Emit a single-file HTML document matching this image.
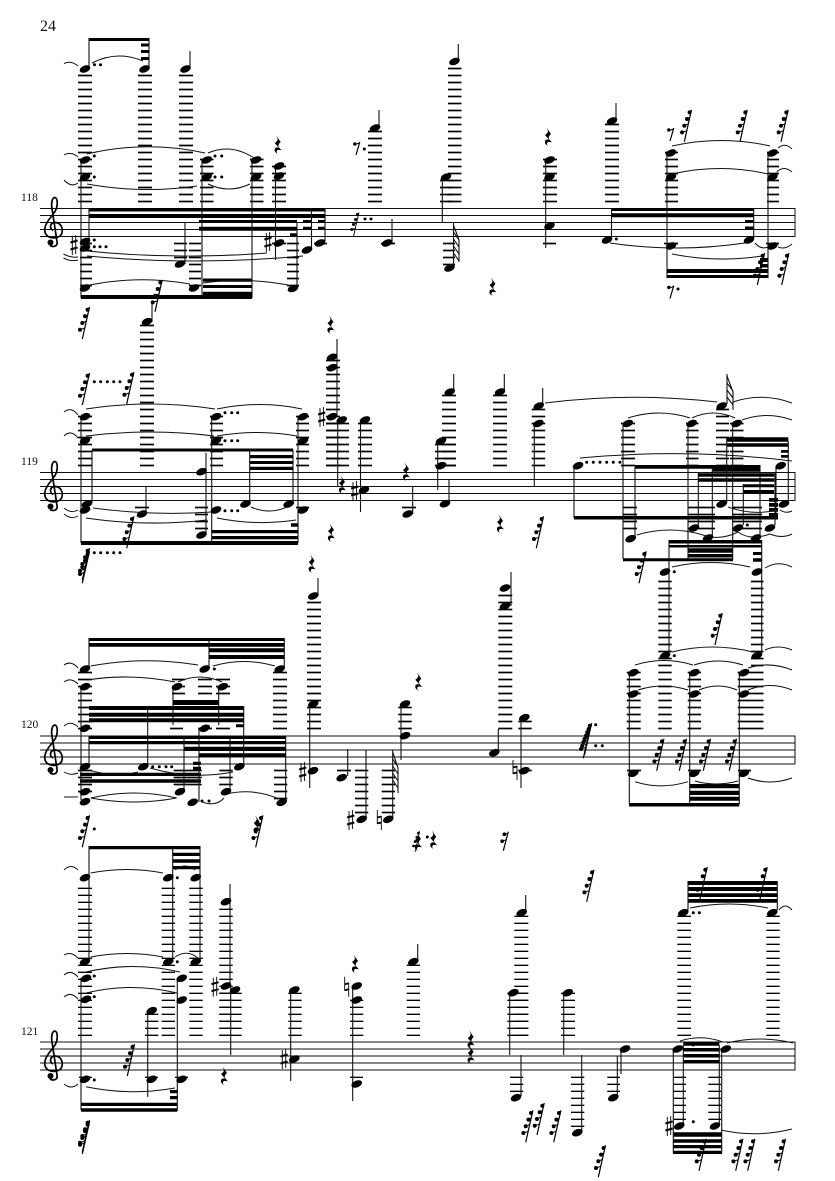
<!DOCTYPE html>
<html><head><meta charset="utf-8"><style>
html,body{margin:0;padding:0;background:#fff}
svg{display:block}
text{font-family:"Liberation Serif",serif;fill:#111}
.st{stroke:#111;stroke-width:1.1;fill:none}
.sl{stroke:#111;stroke-width:1;fill:none}
.ln{stroke:#111;stroke-width:1;fill:none}
.dt{stroke:#000;stroke-width:3;stroke-linecap:round;fill:none}
</style></head><body>
<svg xmlns="http://www.w3.org/2000/svg" width="835" height="1181" viewBox="0 0 835 1181">
<defs>
<pattern id="a" patternUnits="userSpaceOnUse" width="10" height="7"><rect y="4.65" width="10" height="1.7" fill="#000"/></pattern>
<pattern id="b" patternUnits="userSpaceOnUse" width="10" height="7"><rect y="2.65" width="10" height="1.7" fill="#000"/></pattern>
<pattern id="c" patternUnits="userSpaceOnUse" y="-1" width="10" height="7"><rect y=".65" width="10" height="1.7" fill="#000"/></pattern>
<pattern id="d" patternUnits="userSpaceOnUse" width="10" height="7"><rect y="5.65" width="10" height="1.7" fill="#000"/></pattern>
<g id="n"><ellipse rx="5.6" ry="3.4" transform="rotate(-22)" fill="#000"/></g>
<g id="q"><path d="M-1.5-9.5L3-3Q0-.5 1 2L4 5.5Q0 4-1 6Q-1.5 8 1 9.5Q-4 7-3 4Q-2 2 1 2.5L-3-2Q0-4 0-6Z" fill="#000"/></g>
<g id="r"><path d="M0 0L7.2-32" stroke="#000" stroke-width="1.2" fill="none"/><path d="M-2.3-9.3L2.6-11M0-16L4.2-18M2.7-22.7L5.7-24.500M5.3-29.3L7.2-31" stroke="#000" stroke-width="1" fill="none"/><circle cx="-2.3" cy="-9.3" r="2"/><circle cy="-16" r="2"/><circle cx="2.7" cy="-22.7" r="2"/><circle cx="5.3" cy="-29.3" r="2"/></g>
<g id="e"><path d="M0 0L3.800-13" stroke="#000" stroke-width="1.2" fill="none"/><path d="M-1-10.500L3.500-12" stroke="#000" stroke-width="1" fill="none"/><circle cx="-1.2" cy="-11" r="1.700"/></g>
<g id="t"><path d="M0 0L5-19" stroke="#000" stroke-width="1.2" fill="none"/><path d="M-1-9.500L3-11M1-15.500L4.500-17.500" stroke="#000" stroke-width="1" fill="none"/><circle cx="-1.200" cy="-9.500" r="1.800"/><circle cx="1" cy="-16.500" r="1.800"/></g>
<g id="s"><path d="M-1.7-9V10M1.7-10V9" stroke="#000" stroke-width=".9" fill="none"/><path d="M-3.6-2.5L3.6-4.5M-3.6 4.5L3.6 2.5" stroke="#000" stroke-width="2" fill="none"/></g>
<g id="h"><path d="M-2-10V4M2-4V10" stroke="#000" stroke-width=".9" fill="none"/><path d="M-2-2.5L2-3.5M-2 3.5L2 2.5" stroke="#000" stroke-width="1.8" fill="none"/></g>
<g id="g"><path d="M-1 1C-5-1-4-7 1-7C7-7 9-1 8 3C7 8 1 9-3 8C-8 7-10 3-9-2C-8-8-2-13 1-18C4-23 4-31 1-32C-2-32-3-26-2-21L3 12C4 17-1 18-4 16" fill="none" stroke="#000" stroke-width="1.7"/><circle cx="-3.5" cy="13" r="3"/></g>
</defs>
<text x="40" y="31" font-size="16">24</text>
<text x="21" y="201" font-size="11.5">118</text>
<text x="21" y="465" font-size="11.5">119</text>
<text x="21" y="728" font-size="11.5">120</text>
<text x="21" y="1035" font-size="11.5">121</text>

<path class="ln" d="M40 208.5H795M40 215.5H795M40 222.5H795M40 229.5H795M40 236.5H795M795 208V237"/>
<path class="ln" d="M40 472.5H795M40 479.5H795M40 486.5H795M40 493.5H795M40 500.5H795M795 472V501"/>
<path class="ln" d="M40 736H795M40 743H795M40 750H795M40 757H795M40 764H795M795 735.5V764.5"/>
<path class="ln" d="M40 1042H795M40 1049H795M40 1056H795M40 1063H795M40 1070H795M795 1041.5V1070.5"/>
<use href="#g" x="54" y="229.5"/><use href="#g" x="54" y="493.5"/><use href="#g" x="54" y="757"/><use href="#g" x="54" y="1063"/>

<g fill="url(#a)">
<rect x="78" y="74.5" width="14" height="128"/><rect x="138" y="74.5" width="14" height="128"/><rect x="179" y="74.5" width="14" height="128"/>
<rect x="200" y="158.5" width="13.5" height="44"/><rect x="250" y="158.5" width="13.5" height="44"/><rect x="272" y="165.5" width="14" height="37"/>
<rect x="368" y="130.5" width="14" height="72"/><rect x="448" y="67.5" width="13.5" height="135"/><rect x="440" y="179.5" width="13" height="23"/>
<rect x="543" y="158.5" width="14" height="44"/><rect x="605" y="123.5" width="14" height="79"/><rect x="665" y="151.5" width="13" height="51"/><rect x="767" y="151.5" width="12" height="51"/>
<rect x="80" y="242.5" width="12" height="44"/><rect x="189" y="242.5" width="12" height="44"/><rect x="287" y="242.5" width="12" height="44"/>
<rect x="174" y="242.5" width="13" height="16"/><rect x="443" y="242.5" width="12" height="23"/>
<rect x="272" y="242.5" width="14" height="2"/><rect x="314" y="242.5" width="13" height="2"/><rect x="381" y="242.5" width="14" height="2"/>
<rect x="543" y="242.5" width="13" height="2"/><rect x="664" y="242.5" width="14" height="2"/><rect x="766" y="242.5" width="13" height="2"/>
</g>
<g fill="url(#b)">
<rect x="140" y="324.5" width="14" height="142"/><rect x="78" y="415.5" width="14" height="51"/><rect x="210" y="415.5" width="13" height="51"/><rect x="296" y="415.5" width="13" height="51"/>
<rect x="326" y="359.5" width="14" height="107"/><rect x="326" y="422.5" width="23" height="44"/><rect x="358" y="422.5" width="14" height="44"/>
<rect x="442" y="394.5" width="14" height="72"/><rect x="435" y="443.5" width="21" height="23"/><rect x="493" y="394.5" width="14" height="72"/>
<rect x="531.7" y="408.5" width="13.5" height="58"/><rect x="621" y="422.5" width="14" height="44"/><rect x="686" y="422.5" width="12.5" height="44"/><rect x="716" y="408.5" width="13" height="58"/><rect x="730" y="422.5" width="13.5" height="44"/>
<rect x="195" y="506.5" width="13" height="23"/><rect x="623" y="506.5" width="14" height="23"/><rect x="688" y="506.5" width="27" height="23"/><rect x="732" y="506.5" width="30" height="23"/>
<rect x="135" y="506.5" width="14" height="2"/><rect x="296" y="506.5" width="13" height="2"/><rect x="402" y="506.5" width="14" height="2"/>
</g>
<g fill="url(#c)">
<rect x="307" y="601.5" width="14" height="128"/><rect x="78" y="671.5" width="14" height="58"/><rect x="273" y="671.5" width="14" height="58"/>
<rect x="172" y="678.5" width="13" height="16"/><rect x="198" y="678.5" width="14" height="16"/><rect x="216" y="678.5" width="14" height="16"/>
<rect x="170" y="727.5" width="13" height="2"/><rect x="198" y="727.5" width="14" height="2"/><rect x="216" y="727.5" width="14" height="2"/>
<rect x="398.3" y="706.5" width="13.4" height="23"/><rect x="498.3" y="594.5" width="14" height="135"/><rect x="518.3" y="720.5" width="13.4" height="9"/>
<rect x="626.7" y="671.5" width="14" height="58"/><rect x="687.7" y="671.5" width="13.3" height="58"/><rect x="737.7" y="671.5" width="13.3" height="58"/>
<rect x="658.3" y="580.5" width="13.4" height="149"/><rect x="751" y="580.5" width="12.5" height="149"/>
<rect x="78" y="769.5" width="14" height="23"/><rect x="173.7" y="769.5" width="28" height="16"/><rect x="219.3" y="769.5" width="13.4" height="16"/><rect x="274" y="769.5" width="13.3" height="30"/>
<rect x="355" y="769.5" width="13.3" height="44"/><rect x="381.7" y="769.5" width="13.3" height="44"/>
<rect x="337" y="769.5" width="14" height="2"/><rect x="518.3" y="769.5" width="13.4" height="2"/><rect x="627" y="769.5" width="14" height="2"/><rect x="688" y="769.5" width="13" height="2"/><rect x="738" y="769.5" width="13" height="2"/>
</g>
<g fill="url(#d)">
<rect x="78" y="887.5" width="14" height="149"/><rect x="161.7" y="887.5" width="13.3" height="149"/><rect x="189.3" y="887.5" width="13.4" height="149"/>
<rect x="145" y="1013.5" width="13.3" height="23"/><rect x="219.3" y="908.5" width="13.4" height="128"/><rect x="219.3" y="992.5" width="22.4" height="44"/>
<rect x="288.3" y="992.5" width="13.4" height="44"/><rect x="350" y="999.5" width="13.3" height="37"/><rect x="406.7" y="964.5" width="13.3" height="72"/>
<rect x="514.3" y="915.5" width="14" height="121"/><rect x="507.3" y="992.5" width="21" height="44"/><rect x="561" y="992.5" width="14" height="44"/>
<rect x="677.3" y="915.5" width="13.7" height="121"/><rect x="766.3" y="915.5" width="13.4" height="121"/>
<rect x="510" y="1076.5" width="13.3" height="16"/><rect x="607.3" y="1076.5" width="12.7" height="16"/><rect x="571" y="1076.5" width="13.3" height="51"/>
<rect x="674" y="1076.5" width="12" height="44"/><rect x="708.3" y="1076.5" width="12.7" height="44"/>
<rect x="79" y="1076.5" width="13" height="2"/><rect x="145" y="1076.5" width="13" height="2"/><rect x="175" y="1076.5" width="13" height="2"/><rect x="350" y="1076.5" width="13" height="2"/>
</g>

<path fill="#000" d="
M89 38h60v3h-60zM141 43.5h8v3h-8zM141 50h8v3h-8zM141 57h8v3h-8z
M89 208h236v3.5h-236zM89 214h236v4h-236zM199 220h98v2.7h-98zM199 226.7h98v4h-98zM290 233.3h7v2.7h-7zM303 220h8.5v2.7h-8.5zM303 226.7h8.5v2.7h-8.5zM318 220h7v2.7h-7zM318 226.7h7v2.7h-7z
M81 295h171v4h-171zM203 278.5h49v3.2h-49zM203 285h49v3h-49zM203 291.7h49v3.3h-49z
M611 208h142.700v3h-142.700zM611 213.300h142.700v4h-142.700zM745 220h8.700v3h-8.700zM745 226.500h8.700v3h-8.700z
M667 269h101v4h-101zM667 275h101v3h-101zM760 258h8v4h-8zM760 264h8v3.500h-8z
M92 448.500h201v3h-201zM249.700 455h43.300v3.300h-43.300zM249.700 461h43.300v3h-43.300zM249.700 466.700h43.300v3.300h-43.300z
M81 541h217v4h-217zM212 530h86v3.300h-86zM212 536h86v3.300h-86zM291 523.300h7v3.400h-7z
M635 465h125v3.700h-125zM712.700 468.300h47.300v3.400h-47.300zM698.300 473.300h76v3.400h-76zM698.300 478.300h76v3.400h-76zM743 484.300h31v3h-31zM743 490h31v3.300h-31z
M727 437.300h61.300v4.400h-61.300zM727 443.300h61.300v3.400h-61.300zM781 450h7.300v2.700h-7.300zM781 455h7.300v2.700h-7.300z
M769 498h9v3.700h-9zM769 503h9v3.700h-9zM769 508h9v3.700h-9zM769 513h9v3.700h-9z
M574 516h204v3.500h-204zM623 558.300h110v3h-110zM688 548.300h45v4.400h-45zM688 554h45v3.500h-45zM669 540h92.700v3.500h-92.700zM669 545h92.700v2.500h-92.700zM753 552h8.700v3h-8.700zM753 558.300h8.700v3.400h-8.700z
M89 638h195.300v3h-195.300zM89 643h195.300v3.700h-195.300zM209 648.300h75.300v4h-75.300zM209 655h75.300v4h-75.300z
M172.700 700h46v5h-46zM89 706h154.700v4h-154.700zM89 712.700h154.700v4h-154.700zM89 718.300h154.700v4h-154.700zM236 724.300h7.700v3h-7.700z
M89 735.700h196.700v3.300h-196.700zM89 741h196.700v3.300h-196.700zM184 746.700h101.700v4.300h-101.700zM199 753.300h86.700v3.400h-86.700z
M80 772.700h121v3.300h-121zM80 779.300h121v3.400h-121zM193 761.700h8v3.300h-8zM193 766.700h8v3.300h-8z
M629 803h110.300v3.500h-110.300zM689.700 784h49.600v4.300h-49.600zM689.700 790.700h49.600v4.300h-49.600zM689.700 796.700h49.600v4h-49.600z
M89 846h111v3.300h-111zM172.700 852.700h27.300v3.300h-27.300zM172.700 859.300h27.300v3.400h-27.300zM172.700 866h27.300v3.300h-27.300z
M81 1102.700h96.300v3.300h-96.300zM81 1108.300h96.300v3.400h-96.300zM170 1090h8v3.300h-8zM170 1096h8v3.300h-8z
M688 881h89.300v4h-89.300zM688 887h89.300v4h-89.300zM688 893.300h89.300v3.700h-89.300zM688 899h89.300v3.700h-89.300z
M683.300 1041.700h36v4h-36zM683.300 1048h36v3.500h-36zM683.300 1054h36v3.500h-36zM683.300 1060h36v3.300h-36z
M673 1132.300h49v4.400h-49zM673 1139.300h49v3.400h-49zM673 1145h49v3.300h-49zM673 1150.700h49v3.300h-49z"/>

<path class="st" d="M89 38V69M149 38V69M190 51V68M81 160V298M202 160V298M252 160V298M275.500 166V260M89 208V248M185 222V264M297 222V288M311.500 208V248M325 208V241M379 110V127M392 219V243
M458.300 44V61M442.300 177V222M453.500 223V266M545.700 160V248M616 103V120M611.500 208V238M753.700 208V238M667 152V278M768 152V278
M152 304V322M81 417V543M92 450V503M249.700 450V503M293 450V503M211.700 417V543M298 417V543M146 486.500V514M206 453V535
M337 339V417M337.700 420V486M360.500 420V512M412.700 486.500V514M453.700 374V392M437.700 441V490M449 480V503M504.300 374V392M542.700 388V406M534.300 423V486
M574 466V518M623 423V559M635 467V537M669 540V655M761.700 540V655M688 423V559M727 374V404M732.700 423V560M726.700 437V503M788.300 441V503M776 466V518M698.300 473V527M712.300 468V536M760 465V535M743.300 484V525M775 473V525
M318 578V596M309.700 704V788M81 687V800M89 638V667M209 638V668M284.300 638V668M173 687V725M218.700 687V725M89 736V765M147.700 706V765M243.700 706V766M184 736V790M199 728V802M230 737V790M285.700 736V800
M347.700 749V776M366 750V818M392.700 750V818M401 704V760M498.300 729V750M511 572V606M521 718V788M629.300 673V804M689.700 673V804M739.300 673V804
M89 846V958M172.700 846V958M200 846V958M81 978V1110M177.300 978V1111M147.700 1011V1097M230 884V985M230.700 986V1055M290.700 990V1081M352.700 986V1101
M417.700 944V960M525.700 895V912M509.700 993V1055M521 1055V1096M563.700 993V1055M581.700 1055V1131M621 1049V1074M617.300 1056V1096M688 881V910M777.300 881V910M673.300 1049V1153M683.300 1045V1125M719.300 1045V1125M721.700 1049V1153"/>

<path class="st" d="M453.500 225L459 240L459 262M453.500 232L459 240M453.500 239L459 247M453.500 246L459 254M453.500 253L459 261"/>
<path class="st" d="M727 376L733 392L733 410M727 383L733 391M727 390L733 398M727 397L733 405"/>
<path class="st" d="M392.700 752L398 768L398 793M392.700 759L398 767M392.700 766L398 774M392.700 773L398 781M392.700 780L398 788"/>

<g>
<use href="#n" x="85" y="69"/><use href="#n" x="144.500" y="69"/><use href="#n" x="185.500" y="69"/>
<use href="#n" x="85" y="160"/><use href="#n" x="85" y="177"/><use href="#n" x="206.700" y="160"/><use href="#n" x="206.700" y="177"/>
<use href="#n" x="256" y="160"/><use href="#n" x="256" y="177"/><use href="#n" x="279" y="166"/><use href="#n" x="279" y="176"/>
<use href="#n" x="85" y="241.500"/><use href="#n" x="85" y="248"/><use href="#n" x="85" y="288"/><use href="#n" x="180" y="264"/><use href="#n" x="194" y="288"/><use href="#n" x="293" y="288.500"/>
<use href="#n" x="279" y="243"/><use href="#n" x="307" y="250"/><use href="#n" x="320" y="243"/><use href="#n" x="375" y="128"/><use href="#n" x="387" y="243"/>
<use href="#n" x="454.500" y="61.500"/><use href="#n" x="446" y="177"/><use href="#n" x="449.500" y="268"/>
<use href="#n" x="549.500" y="160"/><use href="#n" x="549.500" y="177"/><use href="#n" x="549.500" y="226"/><use href="#n" x="612" y="121"/><use href="#n" x="607" y="240"/><use href="#n" x="749" y="240"/>
<use href="#n" x="671" y="153"/><use href="#n" x="671" y="177"/><use href="#n" x="671" y="246"/><use href="#n" x="772.500" y="153"/><use href="#n" x="772.500" y="177"/><use href="#n" x="772.500" y="246"/>

<use href="#n" x="147" y="321.700"/><use href="#n" x="85" y="416.700"/><use href="#n" x="85" y="440.700"/><use href="#n" x="87" y="504"/><use href="#n" x="85" y="510"/>
<use href="#n" x="216" y="416.700"/><use href="#n" x="216" y="440.700"/><use href="#n" x="216" y="510"/><use href="#n" x="303" y="416.700"/><use href="#n" x="303" y="440.700"/><use href="#n" x="303" y="510"/>
<use href="#n" x="142" y="514"/><use href="#n" x="201.500" y="471.700"/><use href="#n" x="201.500" y="535"/><use href="#n" x="245.500" y="504"/><use href="#n" x="288.700" y="504"/>
<use href="#n" x="332" y="357.300"/><use href="#n" x="332" y="367.700"/><use href="#n" x="332" y="416.700"/><use href="#n" x="341.700" y="420"/><use href="#n" x="365" y="420"/><use href="#n" x="364" y="490"/><use href="#n" x="407.700" y="514"/>
<use href="#n" x="449.700" y="392"/><use href="#n" x="441" y="441"/><use href="#n" x="441" y="465.700"/><use href="#n" x="445" y="503.700"/><use href="#n" x="500" y="392"/><use href="#n" x="538.700" y="406"/><use href="#n" x="538.300" y="423.500"/>
<use href="#n" x="578" y="465.700"/><use href="#n" x="627.700" y="423.500"/><use href="#n" x="630.700" y="538.700"/><use href="#n" x="691.700" y="423.500"/><use href="#n" x="721.700" y="406"/><use href="#n" x="736.700" y="423.500"/>
<use href="#n" x="721.700" y="504"/><use href="#n" x="780.700" y="465.700"/><use href="#n" x="784" y="504"/>
<use href="#n" x="694" y="528"/><use href="#n" x="708" y="538"/><use href="#n" x="738" y="528"/><use href="#n" x="756" y="538"/><use href="#n" x="770" y="528"/>

<use href="#n" x="665" y="572"/><use href="#n" x="757" y="572"/><use href="#n" x="313.300" y="596"/><use href="#n" x="505" y="588"/><use href="#n" x="505" y="606"/>
<use href="#n" x="85" y="669"/><use href="#n" x="204.700" y="669"/><use href="#n" x="279.700" y="669"/><use href="#n" x="85" y="686.700"/><use href="#n" x="177" y="686.700"/><use href="#n" x="222.700" y="686.700"/>
<use href="#n" x="85" y="728.300"/><use href="#n" x="204.700" y="728.300"/><use href="#n" x="143.300" y="766.700"/><use href="#n" x="239.300" y="766.700"/><use href="#n" x="85" y="766.700"/><use href="#n" x="85" y="791.700"/><use href="#n" x="85" y="801.700"/>
<use href="#n" x="180" y="791.700"/><use href="#n" x="226" y="791.700"/><use href="#n" x="192.700" y="802.300"/><use href="#n" x="281.700" y="802.300"/>
<use href="#n" x="313.300" y="704"/><use href="#n" x="313" y="770.700"/><use href="#n" x="341.700" y="777.700"/><use href="#n" x="361.700" y="819.300"/><use href="#n" x="388.300" y="819.300"/><use href="#n" x="405" y="704"/><use href="#n" x="405" y="735.700"/>
<use href="#n" x="494.300" y="752.700"/><use href="#n" x="524.300" y="717.700"/><use href="#n" x="524.300" y="770.700"/>
<use href="#n" x="633.300" y="672.700"/><use href="#n" x="633.300" y="694"/><use href="#n" x="633.300" y="773.300"/><use href="#n" x="694.300" y="672.700"/><use href="#n" x="694.300" y="694"/><use href="#n" x="694.300" y="773.300"/><use href="#n" x="744" y="672.700"/><use href="#n" x="744" y="694"/><use href="#n" x="744" y="773.300"/>
<use href="#n" x="665" y="655.700"/><use href="#n" x="756.700" y="655.700"/>

<use href="#n" x="85" y="877.700"/><use href="#n" x="168.300" y="877.700"/><use href="#n" x="195.700" y="877.700"/><use href="#n" x="85" y="961.700"/><use href="#n" x="168.300" y="961.700"/><use href="#n" x="195.700" y="961.700"/>
<use href="#n" x="86" y="978.300"/><use href="#n" x="86" y="999.300"/><use href="#n" x="181.700" y="978.300"/><use href="#n" x="181.700" y="1000"/><use href="#n" x="85" y="1079.300"/><use href="#n" x="151.700" y="1079.300"/><use href="#n" x="181.700" y="1079.300"/><use href="#n" x="151.700" y="1010.700"/>
<use href="#n" x="226" y="901.700"/><use href="#n" x="226" y="986"/><use href="#n" x="235" y="990"/><use href="#n" x="294.300" y="990"/><use href="#n" x="294.300" y="1059"/>
<use href="#n" x="356.700" y="986"/><use href="#n" x="356.700" y="1000"/><use href="#n" x="356.700" y="1084"/><use href="#n" x="413.300" y="961.700"/>
<use href="#n" x="521.700" y="912.700"/><use href="#n" x="513.300" y="992.700"/><use href="#n" x="516" y="1097.700"/><use href="#n" x="567.700" y="992.700"/><use href="#n" x="577.300" y="1132.700"/><use href="#n" x="625" y="1049"/><use href="#n" x="613.300" y="1097.700"/>
<use href="#n" x="683.300" y="912.700"/><use href="#n" x="772.300" y="912.700"/><use href="#n" x="677.700" y="1049"/><use href="#n" x="725.700" y="1049"/><use href="#n" x="679.300" y="1126"/><use href="#n" x="715" y="1126"/>
</g>

<use href="#s" x="74" y="245"/><use href="#s" x="268" y="242"/><use href="#s" x="321.700" y="417"/><use href="#s" x="354.700" y="491"/><use href="#s" x="302.700" y="772"/><use href="#s" x="350.700" y="820"/><use href="#h" x="379.300" y="820"/><use href="#h" x="515" y="770"/>
<use href="#s" x="215" y="986.700"/><use href="#s" x="284" y="1059"/><use href="#h" x="346.700" y="986.700"/><use href="#s" x="669" y="1126"/>

<path class="dt" d="M94.500 64.700h.01M100.500 64.700h.01M94.300 156h.01M94.300 177h.01M215 156h.01M221.700 156h.01M215 177h.01M221.700 177h.01M94.300 240h.01M94.300 246.700h.01M100 246.700h.01M106 246.700h.01M364.300 149h.01M365 219h.01M371 219h.01M616.300 239h.01M678 289h.01
M94.300 381.700h.01M100.700 381.700h.01M107.300 381.700h.01M113.700 381.700h.01M120 381.700h.01M94.300 552.700h.01M100.700 552.700h.01M107.300 552.700h.01M113.700 552.700h.01M120 552.700h.01
M225 412.700h.01M231.700 412.700h.01M237.700 412.700h.01M225 440.700h.01M231.700 440.700h.01M237.700 440.700h.01M225 510.700h.01M231.700 510.700h.01M237.700 510.700h.01
M586.700 462.300h.01M593.300 462.300h.01M600 462.300h.01M606.700 462.300h.01M613.300 462.300h.01M620 462.300h.01M747.300 525h.01M674.300 571.700h.01
M214.300 669h.01M152.700 766.700h.01M159.300 766.700h.01M166 766.700h.01M171.700 766.700h.01M202 801h.01M209 801h.01M94.300 829h.01M427.300 837h.01M595.700 724.700h.01M595.700 745.700h.01M602.300 745.700h.01M674.300 655.700h.01
M177.300 877.700h.01M177.300 961.700h.01M94.300 976h.01M94.300 996.700h.01M94.300 1080h.01M693.300 912.700h.01M699.300 912.700h.01M693.300 1045h.01M693.300 1121.700h.01"/>

<path class="sl" d="
M64 63.500Q71 60 78 66M92 63Q117 50 143 61M64 155Q71 151 78 157M64 180Q71 188 78 183M87 154Q146 140 205 153M87 184Q142 194 197 186M208 153Q231 143 254 158M208 184Q229 194 250 184
M63.500 254Q71 258 78 257M63.500 258Q71 262 78 260M87 251Q177 260 267 253M87 256Q195 266 303 256M90 285Q140 275 190 284M203 283Q245 277 288 285
M610 243Q677 253 745 243M672 146Q721 135 770 146M672 174Q720 163 768 174M672 254Q717 263 762 256M755 243Q761 250 768 247M778 148Q785 142 792 149M776.700 172Q784 165 792 172M778 247Q785 250 792 244
M64 412Q71 406 78 415M64 436Q71 429 78 438M64 508Q71 514 78 510M64 514Q71 520 78 516M86 409Q150 399 215 409M86 436Q150 428 214 436M217 409Q260 400 302 409M217 436Q257 429 297 436M93 508Q152 516 212 512M86 518Q146 527 207 520M217 518Q256 526 296 520M251 507Q269 515 287 507
M545 403Q631 392 717 402M733 402Q762 392 792 403M580 458Q686 448 792 461M628 418Q659 408 690 418M692 418Q713 408 735 418M742 420Q767 411 792 420M636.700 535Q670 525 703 535M703 535Q720 541 738 532M738 532Q750 541 770 534M770 534Q782 539 792 534M728 507Q753 516 778 510M672 567Q711 558 750 567M765 568Q778 560 792 567M780 510Q786 514 792 511
M64 665Q71 660 78 668M90.700 666Q144 656 198 665M213 666Q244 657 275 666M64 682Q71 677 78 684M87 680Q131 673 175 682M178 682Q200 672 222 682M64 726Q71 720 78 727M64 772Q71 776 78 773M89 770Q114 778 138 772M150 768Q191 780 233 772M90.700 798Q134 788 176.700 798M90.700 798Q134 806 176.700 798M202 802Q216 807 224 798M226.700 794Q252 788 276.700 798M64 797L78 797
M635 665Q664 656 693 665M694 665Q718 657 743 665M748 668Q770 661 792 670M638 690Q663 682 688 690M699 690Q718 682 737 690M748 690Q770 681 792 690M635 781.700Q661 790 688 781.700M695 781Q716 787 738 781M748 778Q770 786 792 778M672 652Q712 642 753 652M765 650Q778 644 792 650
M64 870Q71 863 78 870M90.700 873Q127 866 163 873M175 870Q185 862 195 870M64 955Q71 951 78 958M90.700 957Q127 950 163 957M175 957Q187 949 198 958M64 975Q71 969 78 977M86 972Q133 961 180 972M64 997Q71 991 78 999M86 993Q131 982 177 993M64 1084Q71 1090 78 1084M86 1086.700Q130 1096 175 1088
M690 908Q729 900 768 908M779 910Q785 902 792 910M680 1041Q701 1034 723 1042M727 1043Q760 1035 793 1043M721 1130Q756 1138 792 1129"/>

<use href="#q" x="277.700" y="145"/><use href="#q" x="330.500" y="325"/><use href="#q" x="492.500" y="287"/><use href="#q" x="548" y="137"/>
<use href="#q" x="342" y="485"/><use href="#q" x="331" y="533"/><use href="#q" x="311.700" y="564"/><use href="#q" x="406" y="472"/><use href="#q" x="500" y="524"/>
<use href="#q" x="418.300" y="681.700"/><use href="#q" x="418" y="842"/><use href="#q" x="433.300" y="840"/><use href="#q" x="256.700" y="825"/>
<use href="#q" x="224" y="1076"/><use href="#q" x="355" y="964"/><use href="#q" x="470.700" y="1040"/><use href="#q" x="470.700" y="1055"/>

<use href="#e" x="356" y="155"/><use href="#e" x="670" y="141"/><use href="#e" x="670" y="298.500"/>
<use href="#t" x="503.300" y="850.700"/>

<use href="#r" x="82.300" y="339"/><use href="#r" x="155" y="311.700"/><use href="#r" transform="translate(353.500 236.500) scale(.75)"/>
<use href="#r" x="684.300" y="141.700"/><use href="#r" x="740" y="141.700"/><use href="#r" x="781" y="141.700"/><use href="#r" x="757.300" y="285"/><use href="#r" x="781.700" y="285"/>
<use href="#r" x="82.300" y="405"/><use href="#r" x="126.700" y="404"/><use href="#r" x="126.700" y="548.300"/><use href="#r" x="82.300" y="583.300"/><use href="#r" x="82.300" y="580"/>
<use href="#r" x="536.300" y="548.300"/><use href="#r" x="639" y="583.300"/>
<use href="#r" x="82.300" y="847.300"/><use href="#r" x="255.700" y="847.300"/><use href="#r" transform="translate(415 852) scale(.65)"/><use href="#r" x="583.300" y="758.300"/><use href="#r" x="584.500" y="755"/>
<use href="#r" x="656.700" y="770.700"/><use href="#r" x="679.300" y="770.700"/><use href="#r" x="703.300" y="770.700"/><use href="#r" x="729.300" y="770.700"/><use href="#r" x="715" y="645"/>
<use href="#r" x="586.700" y="901.700"/><use href="#r" x="700" y="899"/><use href="#r" x="760" y="899"/>
<use href="#r" x="127.300" y="1076"/><use href="#r" x="82.300" y="1154"/><use href="#r" x="82.300" y="1152"/>
<use href="#r" x="525.700" y="1142.300"/><use href="#r" x="537" y="1135"/><use href="#r" x="553.700" y="1142.300"/><use href="#r" x="598.300" y="1177.300"/><use href="#r" x="699" y="1170.700"/><use href="#r" x="735.700" y="1170.700"/><use href="#r" x="747.700" y="1170.700"/><use href="#r" x="778.300" y="1170.700"/>
</svg>
</body></html>
